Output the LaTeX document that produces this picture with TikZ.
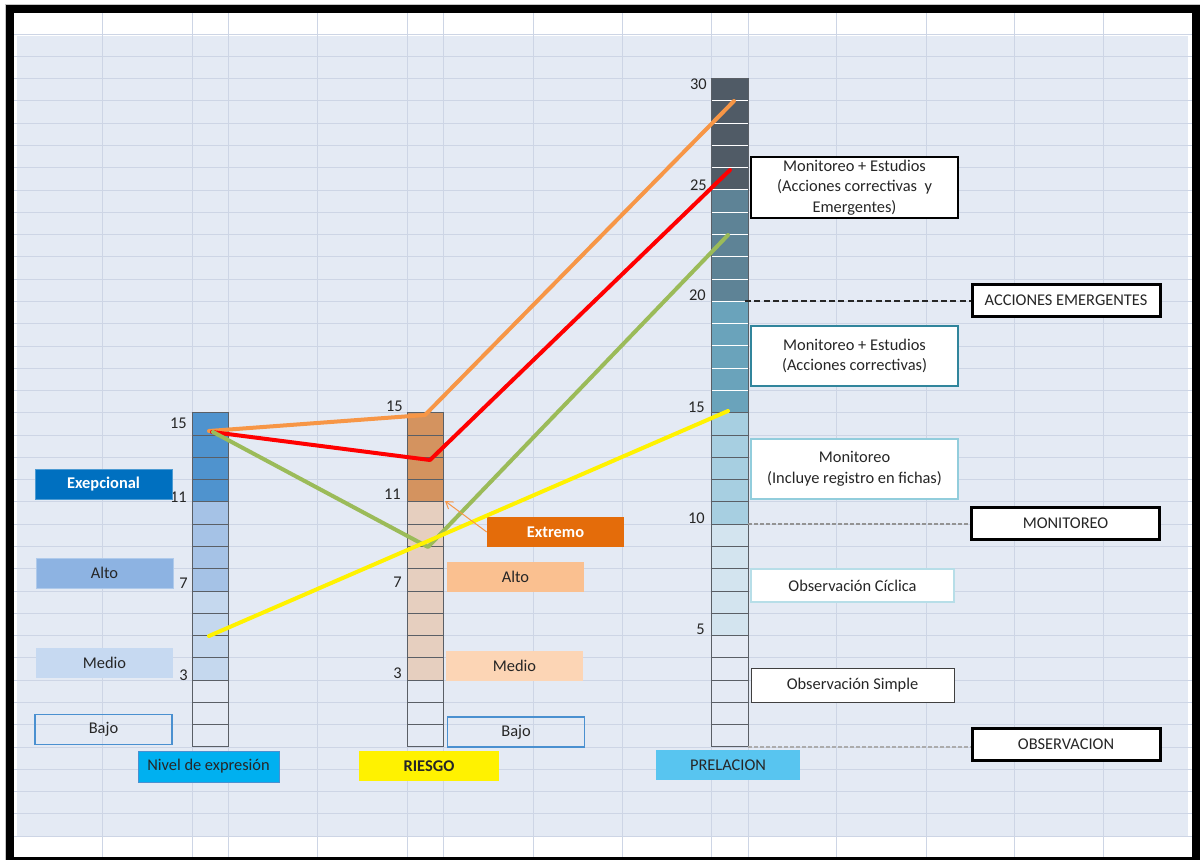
\documentclass[tikz,border=0pt]{standalone}
\usepackage{fontspec}
\setmainfont{Carlito}
\usetikzlibrary{positioning,arrows.meta}
\definecolor{hoja}{HTML}{E4EAF4}
\definecolor{gridc}{HTML}{CDD5E5}
\definecolor{cellc}{HTML}{5A5F66}
\definecolor{nivA}{HTML}{4F93CE}
\definecolor{nivB}{HTML}{A5C2E6}
\definecolor{nivC}{HTML}{C5D8EE}
\definecolor{riesA}{HTML}{D4935F}
\definecolor{riesB}{HTML}{E6CFBF}
\definecolor{prA}{HTML}{505B66}
\definecolor{prB}{HTML}{5E8396}
\definecolor{prC}{HTML}{6AA3BB}
\definecolor{prD}{HTML}{A7CFE1}
\definecolor{prE}{HTML}{D3E4EF}
\definecolor{exepc}{HTML}{0070C0}
\definecolor{altoc}{HTML}{8DB3E2}
\definecolor{medioc}{HTML}{C6D9F1}
\definecolor{bajoc}{HTML}{4A90D0}
\definecolor{nivelc}{HTML}{00B0F0}
\definecolor{extrc}{HTML}{E46C0A}
\definecolor{altorc}{HTML}{FAC090}
\definecolor{mediorc}{HTML}{FCD5B5}
\definecolor{prelc}{HTML}{58C5F0}
\definecolor{tealc}{HTML}{31859C}
\definecolor{aquac}{HTML}{92CDDC}
\definecolor{paleac}{HTML}{B7DEE8}
\definecolor{lnorange}{HTML}{F79646}
\definecolor{lngreen}{HTML}{9BBB59}
\tikzset{
  gridline/.style={draw=gridc, line width=0.6pt},
  cellline/.style={draw=cellc, line width=0.75pt},
  numlbl/.style={anchor=east, inner sep=0pt, text=black!85, font=\fontsize{12.3}{14}\selectfont},
  legbox/.style={rectangle, minimum width=102.75pt, minimum height=22.5pt, inner sep=0pt, text=black!85, font=\fontsize{12.3}{14}\selectfont},
  txtbox/.style={rectangle, fill=white, line width=1.5pt, minimum width=155.25pt, inner sep=0pt, align=center, text=black!85, font=\fontsize{12.3}{15.4}\selectfont},
  lvlbox/.style={rectangle, fill=white, draw=black, line width=2.25pt, minimum width=141pt, minimum height=24pt, inner sep=0pt, text=black!85, font=\fontsize{12.3}{14}\selectfont},
  nivline/.style={line width=3pt, line join=round, line cap=round}
}
\begin{document}
\begin{tikzpicture}[x=0.75pt,y=-0.75pt]
\useasboundingbox (0,0) rectangle (1200,860);
\fill[white] (0,0) rectangle (1200,860);
\fill[hoja] (17,36) rectangle (1188,836);
\foreach \gx in {102,192,228,317,407,443,533,622,711,748,836,926,1014,1103}
  \draw[gridline] (\gx,12) -- (\gx,857);
\foreach \k in {0,...,36}
  \draw[gridline] (14,{34+22.28*\k}) -- (1192,{34+22.28*\k});
\draw[gray!45, line width=0.75pt] (5,870) -- (5,4.5) -- (1200,4.5);
\draw[line width=6pt] (10,9) rectangle (1196,861);

\fill[nivA] (192,412.76) rectangle (228,501.88);
\fill[nivB] (192,501.88) rectangle (228,591);
\fill[nivC] (192,591) rectangle (228,680.12);
\foreach \i in {17,...,31}
  \draw[cellline] (192,{34+22.28*\i}) rectangle (228,{56.28+22.28*\i});

\fill[riesA] (407,412.76) rectangle (443,501.88);
\fill[riesB] (407,501.88) rectangle (443,680.12);
\foreach \i in {17,...,31}
  \draw[cellline] (407,{34+22.28*\i}) rectangle (443,{56.28+22.28*\i});

\fill[prA] (711,78.56) rectangle (748,189.96);
\fill[prB] (711,189.96) rectangle (748,301.36);
\fill[prC] (711,301.36) rectangle (748,412.76);
\fill[prD] (711,412.76) rectangle (748,524.16);
\fill[prE] (711,524.16) rectangle (748,635.56);
\foreach \i in {3,...,16}
  \draw[white, line width=0.75pt] (711,{34+22.28*\i}) -- (748,{34+22.28*\i});
\foreach \i in {17,...,31}
  \draw[cellline] (711,{34+22.28*\i}) rectangle (748,{56.28+22.28*\i});
\draw[cellline] (711,78.56) rectangle (748,746.96);

\node[numlbl] (n15) at (187,423) {15};
\node[numlbl] (n11) at (187,497) {11};
\node[numlbl] (n7) at (188,583) {7};
\node[numlbl] (n3) at (188,675) {3};
\node[numlbl] (r15) at (403,406) {15};
\node[numlbl] (r11) at (401,494) {11};
\node[numlbl] (r7) at (402,582) {7};
\node[numlbl] (r3) at (402,673) {3};
\node[numlbl] (p30) at (707,84) {30};
\node[numlbl] (p25) at (707,185) {25};
\node[numlbl] (p20) at (706,295) {20};
\node[numlbl] (p15) at (705,407) {15};
\node[numlbl] (p10) at (705,518) {10};
\node[numlbl] (p5) at (705,629) {5};

\node[legbox, fill=exepc, draw=exepc!70!white, text=white, font=\fontsize{12.3}{14}\selectfont\bfseries] (exep) at (103.5,484) {Exepcional};
\node[legbox, fill=altoc, draw=altoc!70!white] (altoN) at (104.5,573) {Alto};
\node[legbox, fill=medioc] (medioN) at (104.5,663) {Medio};
\node[legbox, draw=bajoc, line width=1pt] (bajoN) at (103.5,729.5) {Bajo};
\node[legbox, fill=nivelc, draw=bajoc, minimum width=105.75pt, minimum height=23.25pt] (nivel) at (208.5,766.5) {Nivel de expresión};

\node[legbox, fill=extrc, text=white, font=\fontsize{12.3}{14}\selectfont\bfseries] (extremo) at (555.5,532) {Extremo};
\node[legbox, fill=altorc] (altoR) at (515.5,577) {Alto};
\node[legbox, fill=mediorc] (medioR) at (514.5,666) {Medio};
\node[legbox, draw=bajoc, line width=1pt] (bajoR) at (516,732) {Bajo};
\node[legbox, fill=yellow, minimum width=105pt, font=\fontsize{12.3}{14}\selectfont\bfseries] (riesgo) at (429,766) {RIESGO};
\node[legbox, fill=prelc, minimum width=108pt] (prel) at (728,765) {PRELACION};

\node[txtbox, draw=black, minimum height=45.75pt] (mone) at (854.5,187.5) {Monitoreo + Estudios\\(Acciones correctivas\ \ y\\Emergentes)};
\node[txtbox, draw=tealc, minimum height=45pt] (mona) at (854.5,356) {Monitoreo + Estudios\\(Acciones correctivas)};
\node[txtbox, draw=aquac, minimum height=45pt] (monf) at (854.5,469) {Monitoreo\\(Incluye registro en fichas)};
\node[txtbox, draw=paleac, minimum width=152.25pt, minimum height=24.75pt] (obsc) at (852.5,585.5) {Observación Cíclica};
\node[txtbox, draw=black!75, line width=0.75pt, minimum width=152.25pt, minimum height=25.5pt] (obss) at (852.5,685) {Observación Simple};

\node[lvlbox] (accem) at (1066,300.5) {ACCIONES EMERGENTES};
\node[lvlbox] (monit) at (1065.5,523.5) {MONITOREO};
\node[lvlbox] (observ) at (1066,744) {OBSERVACION};

\coordinate (d20) at (745,301);
\coordinate (d10) at (748,524);
\coordinate (d0) at (748,747);
\draw[black!85, line width=1.5pt, dash pattern=on 4.5pt off 2.5pt] (d20) -- (d20 -| accem.west);
\draw[gray!85, line width=2pt, dash pattern=on 3pt off 1.5pt] (d10) -- (d10 -| monit.west);
\draw[gray!65, line width=2pt, dash pattern=on 3pt off 1.5pt] (d0) -- (d0 -| observ.west);

\coordinate (or1) at (209,431);
\coordinate (or2) at (425,415);
\coordinate (or3) at (734,101);
\coordinate (rd1) at (212,432);
\coordinate (rd2) at (430,460);
\coordinate (rd3) at (730,170);
\coordinate (gr1) at (213,432);
\coordinate (gr2) at (428,547);
\coordinate (gr3) at (728,235);
\coordinate (ye1) at (209,636);
\coordinate (ye2) at (728,411);
\draw[nivline, lnorange] (or1) -- (or2) -- (or3);
\draw[nivline, red] (rd1) -- (rd2) -- (rd3);
\draw[nivline, lngreen] (gr1) -- (gr2) -- (gr3);
\draw[nivline, yellow] (ye1) -- (ye2);

\coordinate (r11top) at (445,501);
\draw[-{Straight Barb[length=5pt,width=6.5pt]}, lnorange, line width=0.75pt] (extremo.west) -- (r11top);
\end{tikzpicture}
\end{document}
